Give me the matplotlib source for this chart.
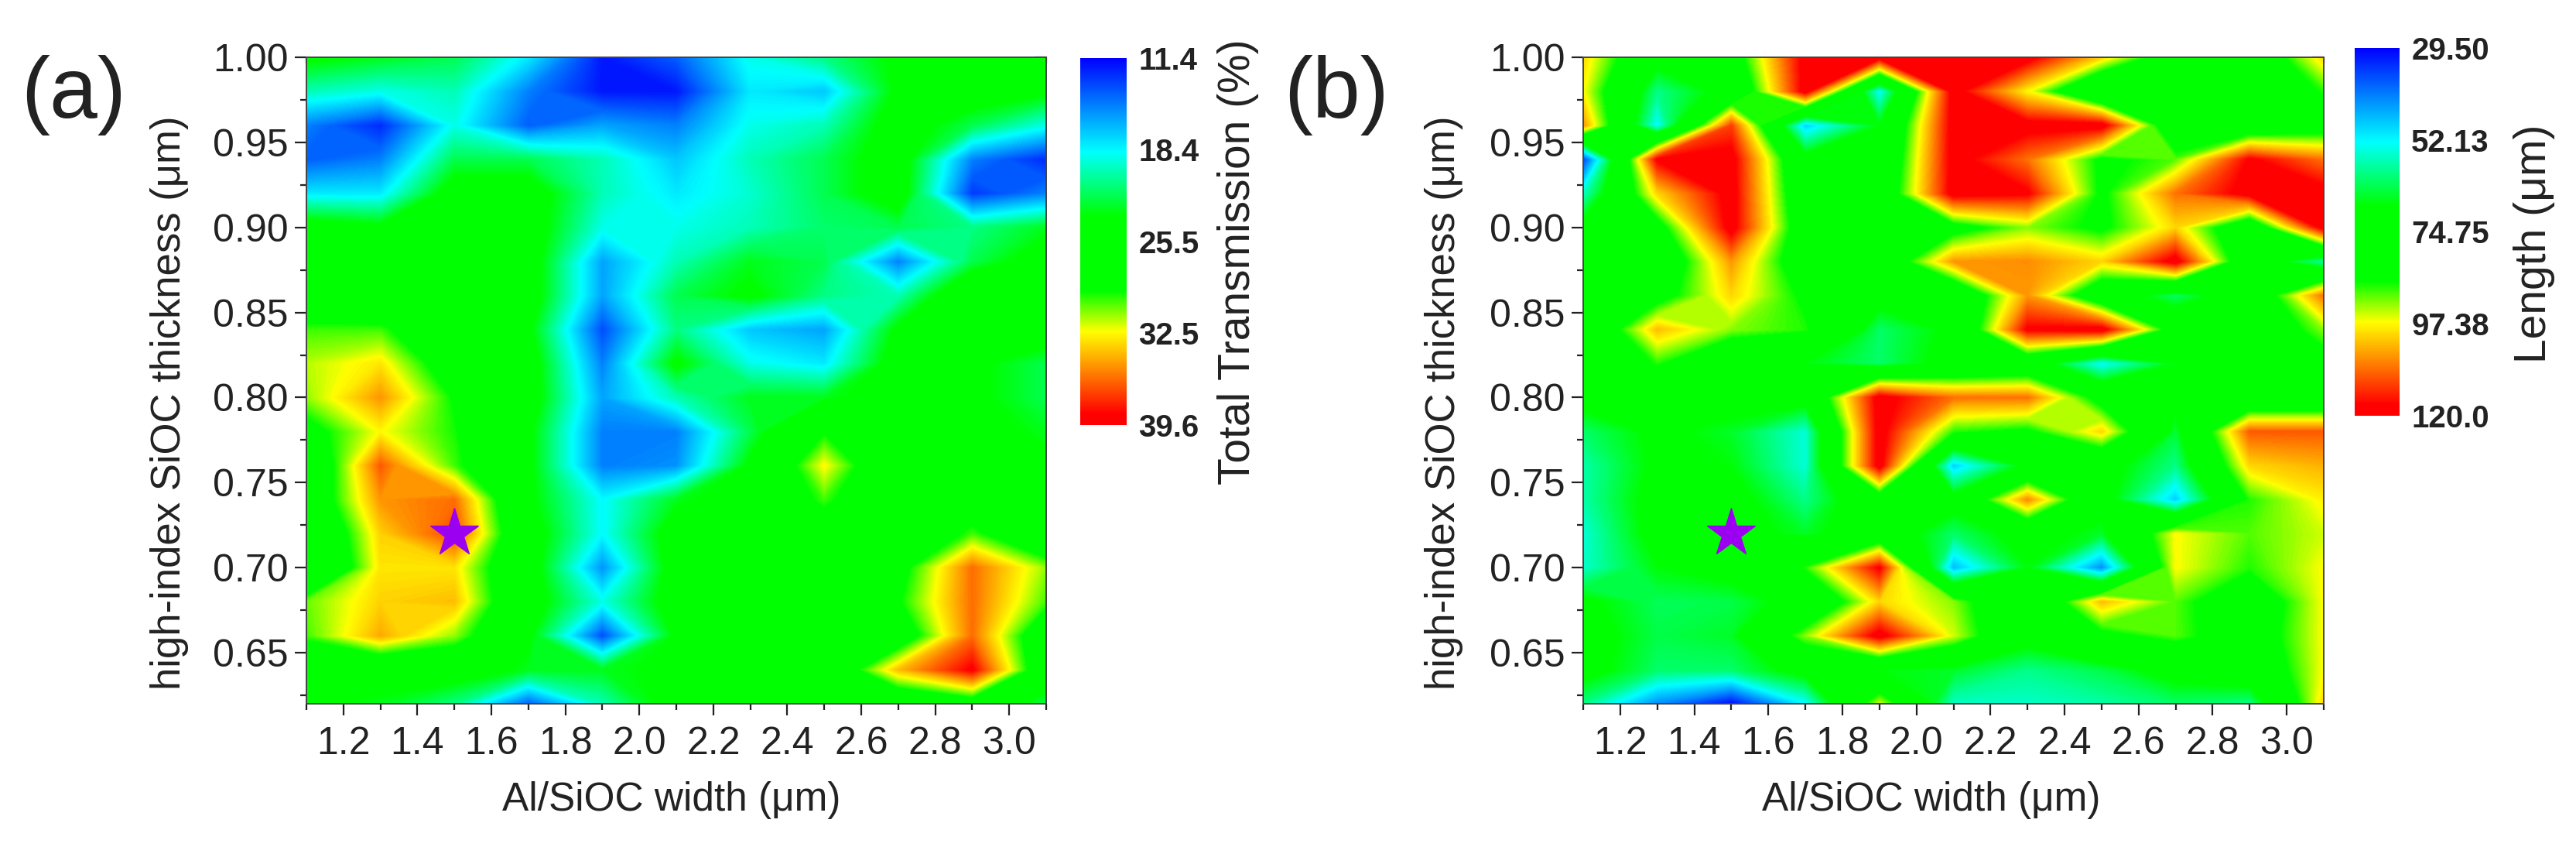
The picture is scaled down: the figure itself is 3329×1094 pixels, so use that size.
"""Contour maps of transmission and length against width and thickness."""

import matplotlib

matplotlib.use("Agg")
import numpy as np
from matplotlib import pyplot as plt
from matplotlib.cm import ScalarMappable
from matplotlib.colors import LinearSegmentedColormap, Normalize
from matplotlib.ticker import MultipleLocator

plt.rcParams["font.family"] = ["Liberation Sans", "DejaVu Sans"]

FIG_W, FIG_H = 3329, 1094

widths = [1.1, 1.3, 1.5, 1.7, 1.9, 2.1, 2.3, 2.5, 2.7, 2.9, 3.1]
thicknesses = [1.00, 0.98, 0.96, 0.94, 0.92, 0.90, 0.88, 0.86, 0.84, 0.82,
               0.80, 0.78, 0.76, 0.74, 0.72, 0.70, 0.68, 0.66, 0.64, 0.62]

transmission = [
    [24, 23, 22, 18, 12, 14, 19, 21, 24, 25, 25],
    [20, 19, 20, 15, 12, 12, 18, 17, 24, 25, 24],
    [15, 12.5, 19, 14, 16, 15, 19, 20, 25, 22, 19],
    [14, 15, 22, 22, 20, 17, 20, 22, 25, 15, 12.5],
    [18, 18, 25, 25, 20, 18, 19.5, 22, 25, 13, 15],
    [25, 24, 25, 25, 19, 19, 20, 21.5, 22, 21, 23],
    [25, 25, 25, 25, 16, 20, 23, 22, 15, 22, 25],
    [26, 25, 25, 25, 16, 22, 24, 21, 20, 27, 25],
    [30, 30, 25, 24, 13.5, 21, 17, 16, 24, 26, 25],
    [31.5, 33, 27, 25, 15, 24, 19, 18, 25, 24, 22],
    [31, 35, 29, 25, 16, 20, 23, 23, 25, 24, 22],
    [28, 32.5, 29.5, 24, 15, 15, 22, 29, 25, 24.5, 23],
    [25, 36.5, 30, 24, 15, 15.5, 24, 32.5, 25, 25, 24],
    [26, 35, 36, 24, 18.5, 23, 25, 30, 25, 27, 25],
    [24, 33.5, 37, 25, 18.5, 25, 26, 27, 25, 30, 25],
    [23, 33, 33, 25, 15.5, 25, 25, 25, 28, 36, 31],
    [30.5, 33.5, 34, 25, 19, 25, 29, 25, 29, 36, 30],
    [30, 34.5, 31, 24, 13.5, 24, 25.5, 25, 26.5, 36, 26],
    [24.5, 25, 25, 23, 23, 24, 29, 25, 34, 39, 26],
    [24, 23, 21, 14, 20, 25, 25, 25, 25, 27, 22],
]

length = [
    [100, 72, 80, 120, 120, 120, 120, 100, 78, 75, 100],
    [97, 60, 72, 120, 52, 120, 97, 68, 75, 75, 88],
    [105, 52, 112, 48, 68, 120, 120, 120, 75, 75, 80],
    [35, 118, 120, 72, 72, 120, 108, 85, 90, 118, 108],
    [56, 100, 120, 75, 75, 120, 118, 85, 108, 120, 120],
    [72, 82, 120, 78, 75, 82, 92, 85, 100, 75, 120],
    [72, 75, 105, 78, 75, 105, 106, 100, 120, 75, 58],
    [72, 82, 100, 85, 72, 72, 105, 75, 62, 75, 108],
    [72, 102, 92, 88, 62, 70, 118, 120, 80, 75, 92],
    [72, 88, 72, 68, 62, 72, 75, 52, 68, 75, 82],
    [72, 72, 72, 72, 120, 108, 108, 82, 72, 72, 72],
    [62, 70, 66, 55, 120, 88, 85, 100, 65, 110, 110],
    [58, 70, 68, 55, 120, 48, 70, 72, 60, 100, 103],
    [58, 72, 72, 60, 78, 72, 106, 72, 48, 88, 98],
    [55, 72, 72, 66, 75, 62, 72, 66, 97, 90, 95],
    [56, 68, 72, 88, 118, 46, 68, 42, 97, 88, 97],
    [70, 63, 64, 72, 100, 92, 72, 102, 90, 78, 97],
    [72, 64, 66, 92, 120, 95, 72, 84, 90, 80, 97],
    [72, 62, 62, 72, 68, 66, 60, 64, 72, 76, 97],
    [60, 42, 30, 52, 95, 56, 56, 58, 62, 60, 100],
]

trans_ticks = [11.4, 18.4, 25.5, 32.5, 39.6]
length_ticks = [29.50, 52.13, 74.75, 97.38, 120.0]
trans_tick_labels = ["11.4", "18.4", "25.5", "32.5", "39.6"]
length_tick_labels = ["29.50", "52.13", "74.75", "97.38", "120.0"]

best_width = [1.5]
best_thickness = [0.72]

cmap = LinearSegmentedColormap.from_list(
    "origin",
    [
        (0.0, "#0000ff"),
        (0.255, "#00ffff"),
        (0.43, "#00ff00"),
        (0.635, "#00ff00"),
        (0.745, "#ffff00"),
        (0.97, "#ff0000"),
        (1.0, "#ff0000"),
    ],
    N=512,
)


def box(x0, y0, x1, y1):
    """Convert a pixel box (y down) to a figure rectangle."""
    return [x0 / FIG_W, 1 - y1 / FIG_H, (x1 - x0) / FIG_W, (y1 - y0) / FIG_H]


def draw_panel(fig, values, ticks, tick_labels, axes_box, bar_box, tag):
    """Draw one contour map with its colour bar."""
    vmin, vmax = ticks[0], ticks[-1]
    ax = fig.add_axes(box(*axes_box))
    levels = np.linspace(vmin, vmax, 200)
    ax.contourf(widths, thicknesses, values, levels=levels, cmap=cmap,
                extend="both", antialiased=False)
    ax.plot(best_width, best_thickness, marker="*", ms=47, mfc="#9b00f0",
            mec="#9b00f0", ls="none", zorder=5)

    ax.set_xlim(1.1, 3.1)
    ax.set_ylim(0.62, 1.00)
    ax.xaxis.set_major_locator(MultipleLocator(0.2))
    ax.xaxis.set_minor_locator(MultipleLocator(0.1))
    ax.yaxis.set_major_locator(MultipleLocator(0.05))
    ax.yaxis.set_minor_locator(MultipleLocator(0.025))
    ax.xaxis.set_major_formatter("{x:.1f}")
    ax.yaxis.set_major_formatter("{x:.2f}")
    ax.tick_params(which="major", length=11, width=1.6, labelsize=36,
                   pad=6, color="#222222", labelcolor="#222222")
    ax.tick_params(axis="x", which="major", pad=10)
    ax.tick_params(which="minor", length=6, width=1.6, color="#222222")

    # top and right ticks point inwards, bottom and left outwards
    top = ax.secondary_xaxis("top")
    top.xaxis.set_major_locator(MultipleLocator(0.2))
    top.xaxis.set_minor_locator(MultipleLocator(0.1))
    right = ax.secondary_yaxis("right")
    right.yaxis.set_major_locator(MultipleLocator(0.05))
    right.yaxis.set_minor_locator(MultipleLocator(0.025))
    for sec in (top, right):
        sec.tick_params(which="major", direction="in", length=11, width=1.6,
                        labeltop=False, labelright=False, color="#222222")
        sec.tick_params(which="minor", direction="in", length=6, width=1.6,
                        color="#222222")
    for sec in (ax, top, right):
        for spine in sec.spines.values():
            spine.set_linewidth(1.4)
            spine.set_color("#444444")

    cax = fig.add_axes(box(*bar_box))
    bar = fig.colorbar(ScalarMappable(Normalize(vmin, vmax), cmap), cax=cax)
    cax.invert_yaxis()
    bar.set_ticks(ticks, labels=tick_labels)
    bar.outline.set_visible(False)
    cax.tick_params(length=0, pad=11, labelsize=29)
    for label in cax.get_yticklabels():
        label.set_fontweight("bold")
        label.set_color("#222222")

    fig.text(tag[0] / FIG_W, 1 - tag[1] / FIG_H, tag[2], fontsize=80,
             ha="center", va="center", color="#222222")


fig = plt.figure(figsize=(FIG_W / 100, FIG_H / 100), dpi=100)

draw_panel(fig, transmission, trans_ticks, trans_tick_labels,
           (396, 74, 1352, 909), (1396, 75, 1456, 549), (95, 123, "(a)"))
draw_panel(fig, length, length_ticks, length_tick_labels,
           (2046, 74, 3003, 909), (3043, 62, 3101, 537), (1727, 123, "(b)"))

label_kw = dict(fontsize=37, ha="center", va="center", color="#222222")
fig.text(868 / FIG_W, 1 - 1033 / FIG_H, "Al/SiOC width (μm)", **label_kw)
fig.text(2496 / FIG_W, 1 - 1033 / FIG_H, "Al/SiOC width (μm)", **label_kw)
ylabel_kw = dict(label_kw, fontsize=38)
fig.text(219 / FIG_W, 1 - 520 / FIG_H, "high-index SiOC thickness (μm)",
         rotation=90, **ylabel_kw)
fig.text(1866 / FIG_W, 1 - 520 / FIG_H, "high-index SiOC thickness (μm)",
         rotation=90, **ylabel_kw)
cbar_kw = dict(label_kw, fontsize=41)
fig.text(1600 / FIG_W, 1 - 338 / FIG_H, "Total Transmission (%)",
         rotation=90, **cbar_kw)
fig.text(3275 / FIG_W, 1 - 315 / FIG_H, "Length (μm)", rotation=90, **cbar_kw)

fig.savefig("out.png", dpi=100)
